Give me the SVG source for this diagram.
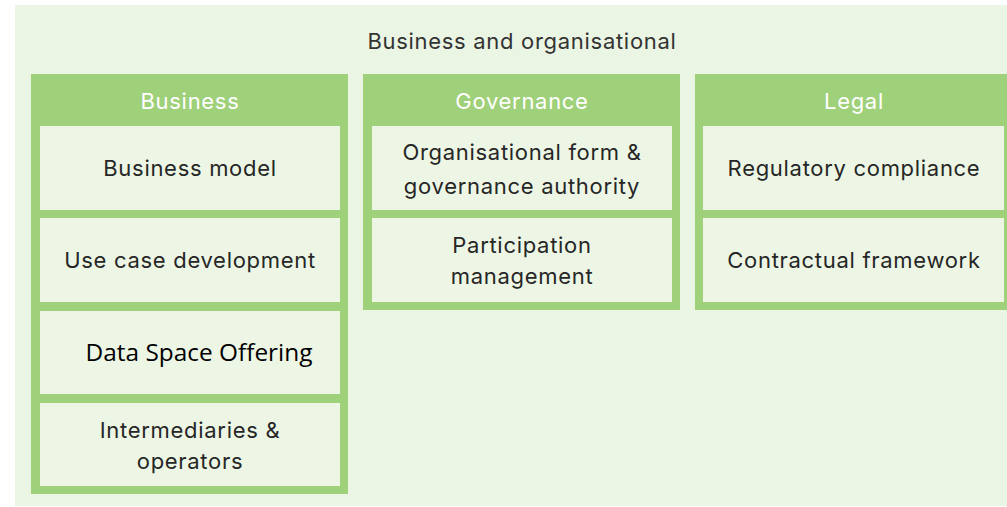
<svg xmlns="http://www.w3.org/2000/svg" width="1007" height="507" viewBox="0 0 1007 507">
<style>
.bg{fill:#ebf5e3}
.col{fill:#9fd07a}
.box{fill:#edf6e5}
.hd{font-family:Inter,"Liberation Sans",sans-serif;font-size:22px;letter-spacing:0.7px;fill:#ffffff;text-anchor:middle}
.t{font-family:Inter,"Liberation Sans",sans-serif;font-size:22px;letter-spacing:0.7px;fill:#262626;text-anchor:middle}
.ttl{font-family:Inter,"Liberation Sans",sans-serif;font-size:22px;letter-spacing:0.7px;fill:#333333;text-anchor:middle}
.ds{font-family:"Open Sans","Liberation Sans",sans-serif;font-size:24.4px;fill:#000000;text-anchor:middle}
</style>
<rect class="bg" x="15" y="5" width="992" height="501"/>
<text class="ttl" x="522" y="49">Business and organisational</text>
<g id="business">
<rect class="col" x="31" y="74" width="317" height="420"/>
<text class="hd" x="190" y="109">Business</text>
<g id="business-model"><rect class="box" x="40" y="126" width="300" height="84"/><text class="t" x="190" y="176">Business model</text></g>
<g id="use-case"><rect class="box" x="40" y="218" width="300" height="84"/><text class="t" x="190" y="268">Use case development</text></g>
<g id="offering"><rect class="box" x="40" y="311" width="300" height="83"/><text class="ds" x="199" y="361">Data Space Offering</text></g>
<g id="intermediaries"><rect class="box" x="40" y="403" width="300" height="83"/><text class="t" x="190" y="438">Intermediaries &amp;</text><text class="t" x="190" y="469">operators</text></g>
</g>
<g id="governance">
<rect class="col" x="363" y="74" width="317" height="236"/>
<text class="hd" x="522" y="109">Governance</text>
<g id="org-form"><rect class="box" x="372" y="126" width="300" height="84"/><text class="t" x="522" y="160">Organisational form &amp;</text><text class="t" x="522" y="194">governance authority</text></g>
<g id="participation"><rect class="box" x="372" y="218" width="300" height="84"/><text class="t" x="522" y="253">Participation</text><text class="t" x="522" y="284">management</text></g>
</g>
<g id="legal">
<rect class="col" x="695" y="74" width="320" height="236"/>
<text class="hd" x="854" y="109">Legal</text>
<g id="regulatory"><rect class="box" x="703" y="126" width="301" height="84"/><text class="t" x="854" y="176">Regulatory compliance</text></g>
<g id="contractual"><rect class="box" x="703" y="218" width="301" height="84"/><text class="t" x="854" y="268">Contractual framework</text></g>
</g>
<g id="connectors"/>
</svg>
